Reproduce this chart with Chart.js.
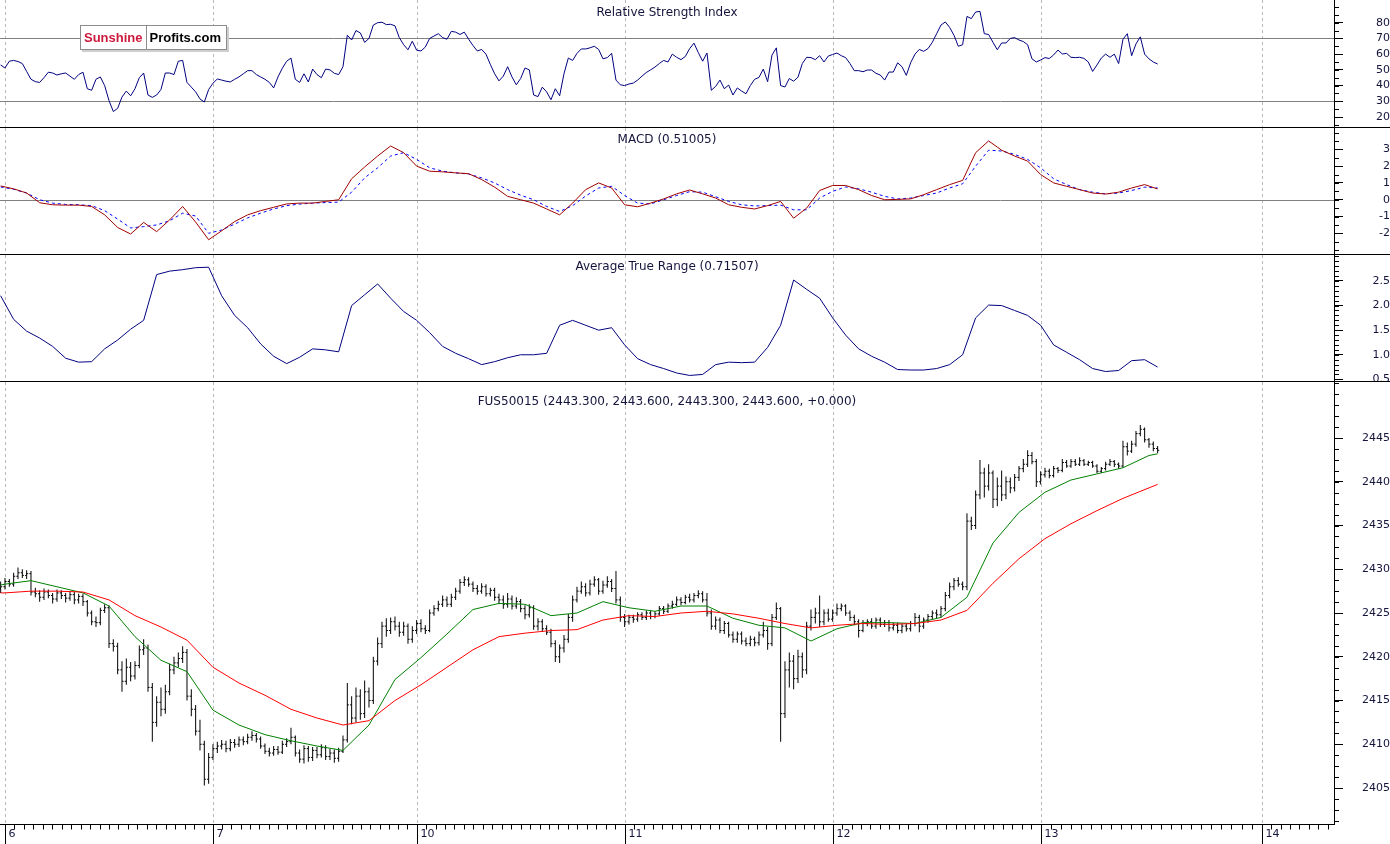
<!DOCTYPE html>
<html>
<head>
<meta charset="utf-8">
<title>FUS50015</title>
<script src="https://cdn.jsdelivr.net/npm/chart.js@4.4.1/dist/chart.umd.min.js"></script>
<style>
  html, body { margin: 0; padding: 0; background: #fff; }
  #stage { position: relative; width: 1390px; height: 844px; overflow: hidden; font-family: "DejaVu Sans", sans-serif; }
  #stage canvas { position: absolute; left: 0; }
  .sep { position: absolute; left: 0; width: 1390px; height: 1px; background: #000; }
  .ttl { position: absolute; left: 0; width: 1334px; text-align: center; font-size: 12px; line-height: 14px; color: #14143c; white-space: nowrap; }
  #logo { position: absolute; left: 80px; top: 25px; height: 23px; border: 1px solid #8c8c8c; background: #fff;
          box-shadow: 2px 2px 0 #cfcfcf; font: bold 13px "Liberation Sans", Arial, sans-serif; line-height: 23px; display: flex; }
  #logo span { padding: 0 3px; }
  #logo .sun { color: #cc1a3c; border-right: 1px solid #8c8c8c; }
  #logo .pro { color: #000; padding-right: 5px; }
</style>
</head>
<body>
<div id="stage">
  <canvas id="pricePane" width="1390" height="462" style="top:382px"></canvas>
  <canvas id="atrPane" width="1390" height="134" style="top:255px"></canvas>
  <canvas id="macdPane" width="1390" height="126" style="top:128px"></canvas>
  <canvas id="rsiPane" width="1390" height="127" style="top:0"></canvas>
  <div class="sep" style="top:127px"></div>
  <div class="sep" style="top:254px"></div>
  <div class="sep" style="top:381px"></div>
  <div class="ttl" style="top:5px">Relative Strength Index</div>
  <div class="ttl" style="top:132px">MACD (0.51005)</div>
  <div class="ttl" style="top:259px">Average True Range (0.71507)</div>
  <div class="ttl" style="top:394px">FUS50015 (2443.300, 2443.600, 2443.300, 2443.600, +0.000)</div>
  <div id="logo"><span class="sun">Sunshine</span><span class="pro">Profits.com</span></div>
</div>
<script>
// x is a bar slot index; sessions start at these slots
const dayTicks = [0, 48, 95, 143, 191, 239, 290];
const dayLabels = ["6", "7", "10", "11", "12", "13", "14"];

// price bars, one per slot starting at slot -1
const BAR_START = -1;
const barOpen = [
  2427.8, 2428.0, 2428.6, 2428.3, 2429.2, 2429.6, 2429.3, 2429.5, 2427.4, 2427.2,
  2426.8, 2427.4, 2427.0, 2426.6, 2427.3, 2427.0, 2426.7, 2427.1, 2426.5, 2426.9,
  2426.3, 2425.0, 2424.0, 2423.9, 2425.3, 2425.6, 2421.5, 2421.2, 2418.5, 2417.2,
  2418.8, 2417.8, 2419.0, 2420.8, 2421.0, 2416.5, 2412.5, 2414.8, 2414.0, 2416.0,
  2418.5, 2419.3, 2419.8, 2420.5, 2415.5, 2414.0, 2411.5, 2410.0, 2406.0, 2408.5,
  2409.5, 2409.8, 2410.0, 2409.5, 2410.2, 2410.0, 2410.5, 2410.3, 2410.8, 2411.0,
  2410.6, 2409.8, 2409.2, 2409.0, 2409.4, 2409.1, 2410.0, 2410.3, 2410.8, 2409.0,
  2408.3, 2409.5, 2408.5, 2409.3, 2408.8, 2409.6, 2408.6, 2409.0, 2408.4, 2409.2,
  2410.5, 2414.5, 2413.0, 2415.5, 2413.5, 2416.0, 2415.0, 2419.5, 2421.5, 2423.5,
  2423.0, 2424.0, 2423.5, 2422.8, 2423.5, 2422.0, 2423.0, 2423.8, 2423.2, 2423.0,
  2425.0, 2425.5, 2426.0, 2426.5, 2426.0, 2426.8, 2427.5, 2428.5, 2428.8, 2428.3,
  2427.8, 2427.5, 2428.0, 2427.2, 2427.6, 2426.8, 2426.5, 2426.0, 2426.6, 2425.8,
  2426.3, 2425.5, 2424.8, 2425.6, 2423.5, 2424.0, 2423.2, 2422.8, 2421.5, 2420.0,
  2421.0, 2422.0, 2424.5, 2426.5, 2427.5, 2428.0, 2427.3, 2428.3, 2428.8, 2427.5,
  2428.2, 2428.6, 2427.8, 2426.5, 2424.5, 2424.0, 2424.5, 2424.3, 2424.8, 2424.5,
  2425.0, 2424.6, 2424.9, 2425.5, 2425.2, 2425.8, 2426.0, 2426.5, 2426.2, 2426.8,
  2426.5, 2427.0, 2427.2, 2426.5, 2425.0, 2423.5, 2424.2, 2423.0, 2423.8, 2422.5,
  2422.0, 2422.6, 2421.8, 2421.5, 2422.0, 2421.6, 2422.5, 2423.0, 2421.5, 2424.5,
  2425.5, 2413.5, 2418.5, 2419.5, 2417.5, 2420.0, 2418.5, 2423.5, 2424.5, 2425.0,
  2424.0, 2425.0, 2424.3, 2425.0, 2425.5, 2425.8, 2425.0, 2424.5, 2424.0, 2423.0,
  2423.8, 2424.0, 2423.5, 2424.2, 2423.7, 2423.9, 2423.3, 2423.6, 2423.0, 2423.5,
  2423.2, 2423.8, 2424.5, 2423.5, 2424.2, 2424.6, 2425.0, 2424.8, 2425.5, 2427.0,
  2428.0, 2428.7, 2428.3, 2428.0, 2435.5, 2435.0, 2438.5, 2441.0, 2439.5, 2441.0,
  2438.0, 2439.5, 2438.5, 2440.0, 2439.3, 2440.5, 2441.5, 2442.0, 2443.0, 2442.3,
  2440.0, 2440.8, 2441.2, 2440.7, 2441.5, 2441.3, 2442.2, 2441.8, 2442.3, 2442.0,
  2442.4, 2442.0, 2442.2, 2441.8, 2441.2, 2441.5, 2442.0, 2442.3, 2442.0, 2441.8,
  2444.0, 2443.5, 2444.3, 2445.5, 2446.0, 2444.8, 2444.3, 2443.8,
];
const barHigh = [
  2428.6, 2429.0, 2428.9, 2429.6, 2430.2, 2430.0, 2429.9, 2429.8, 2427.9, 2427.6,
  2427.8, 2427.7, 2427.3, 2427.7, 2427.6, 2427.3, 2427.5, 2427.4, 2427.2, 2427.2,
  2426.5, 2425.3, 2424.6, 2425.6, 2426.0, 2425.9, 2422.0, 2421.6, 2419.5, 2419.8,
  2419.4, 2419.5, 2421.3, 2422.0, 2421.4, 2417.0, 2415.5, 2416.5, 2416.8, 2419.2,
  2420.0, 2420.5, 2421.2, 2420.9, 2416.3, 2414.5, 2412.8, 2410.4, 2409.0, 2410.0,
  2410.3, 2410.5, 2410.4, 2410.6, 2410.6, 2410.9, 2410.9, 2411.2, 2411.5, 2411.3,
  2410.9, 2410.1, 2409.6, 2409.8, 2409.8, 2410.4, 2410.7, 2411.9, 2411.0, 2409.4,
  2409.9, 2409.8, 2409.7, 2409.7, 2410.0, 2409.9, 2409.5, 2409.4, 2409.6, 2411.0,
  2417.0, 2415.5, 2416.5, 2416.3, 2417.3, 2416.5, 2420.0, 2422.2, 2424.0, 2424.4,
  2424.5, 2424.6, 2424.0, 2424.0, 2423.8, 2423.5, 2424.2, 2424.3, 2423.6, 2425.4,
  2425.9, 2426.4, 2427.0, 2426.9, 2427.2, 2427.9, 2428.9, 2429.2, 2429.1, 2428.6,
  2428.2, 2428.4, 2428.3, 2427.9, 2427.9, 2427.2, 2427.0, 2427.3, 2427.0, 2426.8,
  2426.6, 2425.9, 2426.0, 2425.9, 2424.4, 2424.3, 2423.6, 2423.2, 2421.9, 2421.4,
  2422.5, 2424.9, 2427.0, 2428.0, 2428.6, 2428.4, 2428.8, 2429.2, 2429.0, 2428.7,
  2429.2, 2428.9, 2429.8, 2426.9, 2424.9, 2424.8, 2424.8, 2425.1, 2425.1, 2425.3,
  2425.3, 2425.2, 2425.8, 2425.8, 2426.1, 2426.4, 2426.9, 2426.8, 2427.1, 2427.2,
  2427.3, 2427.6, 2427.5, 2427.3, 2425.4, 2424.6, 2424.5, 2424.1, 2424.0, 2422.9,
  2422.9, 2422.9, 2422.2, 2422.4, 2422.3, 2422.9, 2424.0, 2423.4, 2424.9, 2426.2,
  2425.7, 2419.5, 2420.5, 2420.2, 2420.8, 2420.5, 2424.0, 2425.4, 2425.6, 2427.0,
  2425.4, 2425.5, 2425.4, 2426.1, 2426.1, 2426.0, 2425.3, 2424.8, 2424.3, 2424.2,
  2424.3, 2424.4, 2424.5, 2424.5, 2424.2, 2424.2, 2423.9, 2423.9, 2423.8, 2423.8,
  2424.1, 2425.0, 2424.8, 2424.5, 2424.9, 2425.3, 2425.4, 2425.8, 2427.4, 2428.5,
  2429.0, 2429.1, 2428.6, 2436.4, 2436.0, 2439.0, 2442.5, 2441.6, 2442.0, 2441.3,
  2440.5, 2441.3, 2440.6, 2440.5, 2440.9, 2441.8, 2442.6, 2443.6, 2443.4, 2442.6,
  2441.2, 2441.6, 2441.5, 2441.8, 2441.7, 2442.6, 2442.5, 2442.6, 2442.6, 2442.8,
  2442.6, 2442.4, 2442.4, 2442.0, 2441.7, 2442.3, 2442.6, 2442.5, 2442.2, 2444.7,
  2444.5, 2444.7, 2445.8, 2446.5, 2446.2, 2445.0, 2444.6, 2444.1,
];
const barLow = [
  2427.3, 2427.7, 2428.0, 2428.0, 2428.9, 2429.0, 2428.9, 2427.0, 2426.8, 2426.3,
  2426.5, 2426.7, 2426.1, 2426.3, 2426.6, 2426.2, 2426.4, 2426.0, 2426.1, 2425.8,
  2424.6, 2423.6, 2423.4, 2423.6, 2425.0, 2421.0, 2420.6, 2418.0, 2416.0, 2416.8,
  2417.2, 2417.4, 2418.7, 2420.2, 2416.0, 2410.3, 2412.0, 2413.2, 2413.5, 2415.6,
  2418.0, 2418.8, 2419.3, 2415.0, 2413.2, 2411.0, 2409.3, 2405.3, 2405.5, 2408.2,
  2409.0, 2409.4, 2409.1, 2409.2, 2409.6, 2409.7, 2409.9, 2410.0, 2410.4, 2410.2,
  2409.5, 2408.9, 2408.6, 2408.7, 2408.8, 2408.9, 2409.7, 2410.0, 2408.6, 2407.9,
  2407.8, 2408.0, 2408.1, 2408.4, 2408.5, 2408.2, 2408.2, 2407.9, 2408.0, 2409.0,
  2410.2, 2412.3, 2412.5, 2412.8, 2413.0, 2414.2, 2414.6, 2419.0, 2421.0, 2422.3,
  2422.6, 2423.0, 2422.3, 2422.4, 2421.5, 2421.6, 2422.6, 2422.8, 2422.6, 2422.8,
  2424.7, 2425.2, 2425.7, 2425.7, 2425.7, 2426.5, 2427.2, 2428.1, 2428.0, 2427.4,
  2427.1, 2427.2, 2426.9, 2426.9, 2426.4, 2426.0, 2425.5, 2425.6, 2425.4, 2425.5,
  2425.1, 2424.3, 2424.5, 2423.1, 2423.0, 2422.9, 2422.5, 2421.1, 2419.4, 2419.3,
  2420.5, 2421.6, 2424.0, 2426.2, 2427.2, 2426.9, 2427.0, 2428.0, 2427.1, 2427.2,
  2427.9, 2427.4, 2426.1, 2424.0, 2423.4, 2423.7, 2423.9, 2424.0, 2424.2, 2424.2,
  2424.3, 2424.4, 2424.7, 2424.9, 2425.0, 2425.5, 2425.8, 2425.9, 2426.0, 2426.2,
  2426.2, 2426.7, 2426.2, 2424.6, 2423.1, 2423.1, 2422.7, 2422.6, 2422.2, 2421.6,
  2421.6, 2421.4, 2421.2, 2421.2, 2421.2, 2421.3, 2422.2, 2420.8, 2421.2, 2424.2,
  2410.3, 2413.0, 2416.5, 2416.3, 2417.0, 2417.6, 2418.0, 2423.0, 2423.8, 2423.4,
  2423.6, 2424.0, 2424.0, 2424.7, 2425.2, 2424.7, 2424.1, 2423.6, 2422.2, 2422.8,
  2423.5, 2423.2, 2423.2, 2423.4, 2423.4, 2422.9, 2423.0, 2422.7, 2422.7, 2422.9,
  2422.9, 2423.5, 2422.8, 2423.2, 2423.9, 2424.3, 2424.4, 2424.5, 2425.2, 2426.7,
  2427.6, 2428.0, 2427.6, 2427.6, 2434.5, 2434.6, 2438.0, 2438.2, 2439.0, 2437.0,
  2437.2, 2437.8, 2438.0, 2438.7, 2438.9, 2440.1, 2441.1, 2441.7, 2442.0, 2439.4,
  2439.7, 2440.5, 2440.4, 2440.5, 2441.0, 2441.1, 2441.6, 2441.6, 2441.8, 2441.8,
  2441.8, 2441.8, 2441.6, 2441.0, 2441.0, 2441.3, 2441.8, 2441.7, 2441.5, 2441.6,
  2443.0, 2443.3, 2444.0, 2445.2, 2444.5, 2443.9, 2443.5, 2443.3,
];
const barClose = [
  2428.0, 2428.6, 2428.3, 2429.2, 2429.6, 2429.3, 2429.5, 2427.4, 2427.2, 2426.8,
  2427.4, 2427.0, 2426.6, 2427.3, 2427.0, 2426.7, 2427.1, 2426.5, 2426.9, 2426.3,
  2425.0, 2424.0, 2423.9, 2425.3, 2425.6, 2421.5, 2421.2, 2418.5, 2417.2, 2418.8,
  2417.8, 2419.0, 2420.8, 2421.0, 2416.5, 2412.5, 2414.8, 2414.0, 2416.0, 2418.5,
  2419.3, 2419.8, 2420.5, 2415.5, 2414.0, 2411.5, 2410.0, 2406.0, 2408.5, 2409.5,
  2409.8, 2410.0, 2409.5, 2410.2, 2410.0, 2410.5, 2410.3, 2410.8, 2411.0, 2410.6,
  2409.8, 2409.2, 2409.0, 2409.4, 2409.1, 2410.0, 2410.3, 2410.8, 2409.0, 2408.3,
  2409.5, 2408.5, 2409.3, 2408.8, 2409.6, 2408.6, 2409.0, 2408.4, 2409.2, 2410.5,
  2414.5, 2413.0, 2415.5, 2413.5, 2416.0, 2415.0, 2419.5, 2421.5, 2423.5, 2423.0,
  2424.0, 2423.5, 2422.8, 2423.5, 2422.0, 2423.0, 2423.8, 2423.2, 2423.0, 2425.0,
  2425.5, 2426.0, 2426.5, 2426.0, 2426.8, 2427.5, 2428.5, 2428.8, 2428.3, 2427.8,
  2427.5, 2428.0, 2427.2, 2427.6, 2426.8, 2426.5, 2426.0, 2426.6, 2425.8, 2426.3,
  2425.5, 2424.8, 2425.6, 2423.5, 2424.0, 2423.2, 2422.8, 2421.5, 2420.0, 2421.0,
  2422.0, 2424.5, 2426.5, 2427.5, 2428.0, 2427.3, 2428.3, 2428.8, 2427.5, 2428.2,
  2428.6, 2427.8, 2426.5, 2424.5, 2424.0, 2424.5, 2424.3, 2424.8, 2424.5, 2425.0,
  2424.6, 2424.9, 2425.5, 2425.2, 2425.8, 2426.0, 2426.5, 2426.2, 2426.8, 2426.5,
  2427.0, 2427.2, 2426.5, 2425.0, 2423.5, 2424.2, 2423.0, 2423.8, 2422.5, 2422.0,
  2422.6, 2421.8, 2421.5, 2422.0, 2421.6, 2422.5, 2423.0, 2421.5, 2424.5, 2425.5,
  2413.5, 2418.5, 2419.5, 2417.5, 2420.0, 2418.5, 2423.5, 2424.5, 2425.0, 2424.0,
  2425.0, 2424.3, 2425.0, 2425.5, 2425.8, 2425.0, 2424.5, 2424.0, 2423.0, 2423.8,
  2424.0, 2423.5, 2424.2, 2423.7, 2423.9, 2423.3, 2423.6, 2423.0, 2423.5, 2423.2,
  2423.8, 2424.5, 2423.5, 2424.2, 2424.6, 2425.0, 2424.8, 2425.5, 2427.0, 2428.0,
  2428.7, 2428.3, 2428.0, 2435.5, 2435.0, 2438.5, 2441.0, 2439.5, 2441.0, 2438.0,
  2439.5, 2438.5, 2440.0, 2439.3, 2440.5, 2441.5, 2442.0, 2443.0, 2442.3, 2440.0,
  2440.8, 2441.2, 2440.7, 2441.5, 2441.3, 2442.2, 2441.8, 2442.3, 2442.0, 2442.4,
  2442.0, 2442.2, 2441.8, 2441.2, 2441.5, 2442.0, 2442.3, 2442.0, 2441.8, 2444.0,
  2443.5, 2444.3, 2445.5, 2446.0, 2444.8, 2444.3, 2443.8, 2443.6,
];

// moving averages read at these slots
const maSlots = [-1, 0, 6, 12, 18, 24, 30, 36, 42, 48, 54, 60, 66, 72, 78, 84, 90, 96, 102, 108,
  114, 120, 126, 132, 138, 144, 150, 156, 162, 168, 174, 180, 186, 192, 198, 204, 210, 216, 222,
  228, 234, 240, 246, 252, 258, 264, 266];
const maFast = [2428.2, 2428.3, 2428.7, 2428.0, 2427.3, 2425.8, 2422.3, 2419.6, 2418.3, 2413.9,
  2412.2, 2411.1, 2410.4, 2409.8, 2409.3, 2412.2, 2417.4, 2419.9, 2422.6, 2425.4,
  2426.1, 2426.0, 2424.7, 2425.0, 2426.3, 2425.6, 2425.2, 2425.8, 2425.8, 2424.4,
  2423.6, 2423.3, 2421.8, 2423.2, 2423.9, 2423.9, 2423.8, 2424.5, 2426.8, 2433.0,
  2436.5, 2438.8, 2440.2, 2440.9, 2441.6, 2443.0, 2443.2];
const maSlow = [2427.3, 2427.3, 2427.5, 2427.5, 2427.4, 2426.5, 2424.7, 2423.4, 2421.9, 2418.8,
  2417.0, 2415.6, 2414.0, 2413.0, 2412.2, 2412.7, 2415.0, 2416.8, 2418.8, 2420.8,
  2422.3, 2422.7, 2423.0, 2423.1, 2424.2, 2424.7, 2424.6, 2425.0, 2425.2, 2424.9,
  2424.4, 2423.8, 2423.3, 2423.6, 2423.8, 2423.7, 2423.8, 2424.2, 2425.3, 2428.4,
  2431.2, 2433.5, 2435.2, 2436.7, 2438.1, 2439.3, 2439.7];

// RSI, one value per slot from slot -1
const RSI_START = -1;
const rsiValues = [
  53.1, 51.2, 55.5, 56.0, 55.3, 54.0, 49.0, 44.0, 42.5, 42.0,
  45.0, 48.5, 48.0, 46.7, 47.5, 48.0, 46.0, 44.0, 47.0, 48.5,
  38.0, 37.0, 44.0, 45.5, 40.0, 30.5, 23.5, 25.5, 32.7, 36.5,
  33.5, 38.0, 45.0, 48.0, 34.0, 32.5, 34.0, 37.5, 48.0, 48.0,
  47.0, 55.5, 56.0, 42.0, 39.0, 36.0, 31.5, 29.5, 37.5, 41.5,
  44.2, 43.5, 42.8, 42.3, 44.0, 45.5, 47.5, 49.5, 49.5, 47.0,
  45.5, 44.0, 42.0, 38.5, 45.5, 51.0, 55.5, 57.5, 44.0, 42.0,
  47.5, 42.3, 50.5, 47.0, 45.0, 50.5, 50.0, 47.8, 47.0, 52.0,
  72.0, 69.0, 75.0, 73.5, 67.5, 70.0, 78.5, 80.0, 80.3, 78.8,
  79.0, 78.0, 70.5, 66.0, 62.8, 68.2, 62.5, 62.0, 64.5, 70.0,
  71.5, 73.0, 70.5, 69.5, 74.5, 74.0, 72.5, 74.0, 69.5, 65.5,
  62.0, 63.0, 60.0, 53.5, 47.5, 43.0, 46.0, 52.0, 45.5, 40.5,
  44.5, 51.2, 50.0, 34.0, 33.0, 39.0, 36.0, 31.0, 38.0, 33.5,
  47.5, 57.5, 56.0, 60.5, 63.3, 63.3, 64.0, 65.0, 63.0, 57.0,
  57.8, 60.5, 43.5, 40.5, 40.0, 41.0, 41.6, 43.5, 46.0, 48.3,
  50.0, 51.8, 54.0, 56.0, 55.0, 60.0, 58.0, 56.5, 58.5, 63.5,
  67.0, 61.0, 55.5, 60.7, 37.0, 39.5, 43.5, 38.0, 40.3, 34.0,
  38.5, 36.5, 34.8, 40.0, 44.0, 45.2, 50.5, 42.5, 59.4, 64.0,
  40.0, 39.1, 44.5, 42.8, 45.3, 54.0, 58.0, 57.8, 56.5, 59.0,
  55.0, 58.8, 59.8, 60.7, 59.0, 57.8, 54.0, 49.5, 49.5, 48.8,
  49.9, 49.9, 47.8, 46.7, 43.5, 48.6, 48.6, 54.5, 52.0, 46.5,
  54.5, 60.0, 63.0, 61.8, 63.5, 67.5, 73.0, 78.5, 80.5, 77.0,
  72.0, 65.0, 66.0, 84.0, 82.6, 86.8, 87.2, 73.0, 72.5, 67.5,
  62.8, 67.1, 67.1, 70.0, 70.5, 69.0, 68.0, 66.0, 57.0, 55.0,
  56.3, 57.8, 57.2, 59.5, 62.6, 60.1, 60.5, 58.0, 57.8, 58.0,
  57.3, 55.0, 49.0, 53.1, 57.5, 60.0, 58.0, 60.0, 54.0, 69.5,
  73.0, 59.0, 66.5, 71.0, 60.0, 57.0, 55.0, 53.7,
];

// MACD and ATR, read every third slot from slot -1
const OSC_START = -1, OSC_STEP = 3;
const macdLine = [
  0.82, 0.65, 0.4, -0.18, -0.3, -0.32, -0.32, -0.4, -0.9, -1.65,
  -2.04, -1.35, -1.9, -1.2, -0.4, -1.33, -2.38, -1.85, -1.3, -0.9,
  -0.65, -0.45, -0.25, -0.2, -0.2, -0.1, 0.0, 1.25, 1.95, 2.6,
  3.2, 2.8, 2.0, 1.7, 1.66, 1.6, 1.55, 1.2, 0.75, 0.2,
  0.0, -0.2, -0.55, -0.9, -0.2, 0.6, 1.0, 0.7, -0.3, -0.42,
  -0.2, 0.05, 0.35, 0.58, 0.35, 0.1, -0.3, -0.45, -0.55, -0.35,
  -0.1, -1.1, -0.5, 0.55, 0.85, 0.85, 0.6, 0.25, 0.0, 0.02,
  0.05, 0.3, 0.6, 0.9, 1.15, 2.8, 3.5, 2.95, 2.6, 2.3,
  1.5, 1.0, 0.8, 0.6, 0.4, 0.34, 0.45, 0.7, 0.9, 0.64,
];
const macdSignal = [
  0.76, 0.62, 0.4, 0.0, -0.2, -0.28, -0.3, -0.35, -0.65, -1.15,
  -1.68, -1.6, -1.5, -1.25, -0.8, -0.97, -2.0, -1.8, -1.45, -1.08,
  -0.8, -0.55, -0.35, -0.26, -0.2, -0.17, -0.14, 0.45, 1.3, 1.9,
  2.6, 2.8, 2.4, 1.9, 1.7, 1.6, 1.53, 1.3, 1.0, 0.6,
  0.27, 0.0, -0.4, -0.7, -0.35, 0.22, 0.7, 0.8, 0.25, -0.2,
  -0.25, 0.0, 0.25, 0.48, 0.45, 0.18, -0.1, -0.3, -0.37, -0.35,
  -0.32, -0.6, -0.6, 0.1, 0.5, 0.76, 0.65, 0.45, 0.2, 0.05,
  0.1, 0.25, 0.4, 0.7, 0.95, 2.0, 2.95, 2.9, 2.7, 2.4,
  1.9, 1.25, 0.9, 0.6, 0.45, 0.35, 0.4, 0.55, 0.75, 0.7,
];
const atrValues = [
  2.2, 1.72, 1.48, 1.34, 1.17, 0.93, 0.85, 0.86, 1.12, 1.3,
  1.52, 1.7, 2.63, 2.7, 2.73, 2.77, 2.78, 2.2, 1.8, 1.55,
  1.22, 0.97, 0.82, 0.95, 1.12, 1.1, 1.06, 2.0, 2.22, 2.44,
  2.15, 1.88, 1.7, 1.45, 1.17, 1.03, 0.92, 0.8, 0.86, 0.94,
  1.0, 1.0, 1.03, 1.6, 1.7, 1.6, 1.5, 1.55, 1.2, 0.92,
  0.8, 0.72, 0.63, 0.58, 0.6, 0.8, 0.85, 0.84, 0.85, 1.15,
  1.6, 2.52, 2.33, 2.15, 1.75, 1.4, 1.12, 0.97, 0.85, 0.7,
  0.69, 0.69, 0.72, 0.8, 1.0, 1.75, 2.01, 2.0, 1.9, 1.8,
  1.6, 1.2, 1.05, 0.9, 0.72, 0.66, 0.68, 0.88, 0.9, 0.75,
];

// axis labels and reference levels
const rsiTicks = [20, 30, 40, 50, 60, 70, 80];
const rsiLevels = [70, 30];
const macdTicks = [-2, -1, 0, 1, 2, 3];
const macdLevels = [0];
const atrTicks = [0.5, 1.0, 1.5, 2.0, 2.5];
const priceTicks = [2405, 2410, 2415, 2420, 2425, 2430, 2435, 2440, 2445];

const X_MIN = -1.15, X_MAX = 306.7, AXIS_W = 56;
const INK = "#14143c";

Chart.defaults.font.family = '"DejaVu Sans", sans-serif';

function series(start, step, values) {
  return values.map((v, i) => ({ x: start + i * step, y: v }));
}

function steps(lo, hi, step) {
  const out = [];
  for (let v = lo; v <= hi + 1e-9; v += step) out.push(+v.toFixed(4));
  return out;
}

// draws session dividers, level lines, minor axis ticks and the time axis
const paneDecor = {
  id: "paneDecor",
  beforeDatasetsDraw(chart, args, opts) {
    const { ctx, chartArea: a } = chart;
    const x = chart.scales.x, y = chart.scales.y;
    ctx.save();
    ctx.lineWidth = 1;
    ctx.strokeStyle = "#b9b9b9";
    ctx.setLineDash([3, 3]);
    for (const t of dayTicks) {
      const px = Math.round(x.getPixelForValue(t)) + 0.5;
      if (px < a.left || px > a.right) continue;
      ctx.beginPath(); ctx.moveTo(px, a.top); ctx.lineTo(px, a.bottom); ctx.stroke();
    }
    ctx.setLineDash([]);
    ctx.strokeStyle = "#808080";
    for (const v of opts.levels || []) {
      const py = Math.round(y.getPixelForValue(v)) + 0.5;
      ctx.beginPath(); ctx.moveTo(a.left, py); ctx.lineTo(a.right, py); ctx.stroke();
    }
    ctx.restore();
  },
  afterDraw(chart, args, opts) {
    const { ctx, chartArea: a } = chart;
    const x = chart.scales.x, y = chart.scales.y;
    ctx.save();
    ctx.strokeStyle = "#000";
    ctx.lineWidth = 1;
    for (const v of opts.minor || []) {
      const py = Math.round(y.getPixelForValue(v)) + 0.5;
      if (py < a.top || py > a.bottom) continue;
      ctx.beginPath(); ctx.moveTo(y.left, py); ctx.lineTo(y.left + 5, py); ctx.stroke();
    }
    if (opts.timeAxis) {
      const yb = Math.round(a.bottom) + 0.5;
      ctx.beginPath(); ctx.moveTo(0, yb); ctx.lineTo(a.right, yb); ctx.stroke();
      ctx.fillStyle = INK;
      ctx.font = '11px "DejaVu Sans", sans-serif';
      ctx.textBaseline = "middle";
      ctx.textAlign = "left";
      dayTicks.forEach((t, i) => {
        const next = i + 1 < dayTicks.length ? dayTicks[i + 1] : t + 48;
        for (let k = 1; k < 22; k++) {
          const px = Math.round(x.getPixelForValue(t + ((next - t) * k) / 22)) + 0.5;
          if (px > a.right) break;
          ctx.beginPath(); ctx.moveTo(px, yb); ctx.lineTo(px, yb + 5); ctx.stroke();
        }
        const px = Math.round(x.getPixelForValue(t)) + 0.5;
        if (px > a.right) return;
        ctx.beginPath(); ctx.moveTo(px, yb); ctx.lineTo(px, chart.height); ctx.stroke();
        ctx.fillText(dayLabels[i], px + 3, yb + 10);
      });
    }
    ctx.restore();
  },
};

function rightAxis(min, max, labels, digits) {
  return {
    type: "linear",
    position: "right",
    min,
    max,
    afterBuildTicks: (s) => { s.ticks = labels.map((v) => ({ value: v })); },
    afterFit: (s) => {
      s.width = AXIS_W;
      s.paddingTop = 0;
      s.paddingBottom = 0;
      try {
        // right-align labels about 5px from the edge
        const widest = s._getLabelSizes().widest.width;
        s.options.ticks.padding = AXIS_W - 5 - 9 - widest;
      } catch (e) { /* keep default padding */ }
    },
    border: { display: true, color: "#000", width: 1 },
    grid: { drawOnChartArea: false, drawTicks: true, tickLength: 9, color: "#000", lineWidth: 1 },
    ticks: {
      crossAlign: "far",
      padding: 10,
      autoSkip: false,
      color: INK,
      font: { size: 11 },
      callback: (v) => Number(v).toFixed(digits),
    },
  };
}

function makePane(id, cfg) {
  return new Chart(document.getElementById(id), {
    type: "line",
    data: { datasets: cfg.datasets },
    options: {
      responsive: false,
      animation: false,
      devicePixelRatio: 1,
      events: [],
      layout: { autoPadding: false, padding: { left: 0, right: 0, top: 0, bottom: cfg.bottom || 0 } },
      plugins: {
        legend: { display: false },
        tooltip: { enabled: false },
        paneDecor: { levels: cfg.levels, minor: cfg.minor, timeAxis: cfg.timeAxis },
      },
      scales: {
        x: { type: "linear", display: false, min: X_MIN, max: X_MAX, offset: false },
        y: rightAxis(cfg.min, cfg.max, cfg.ticks, cfg.digits),
      },
    },
    plugins: [paneDecor],
  });
}

function lineSet(data, color, extra) {
  return Object.assign({ data, borderColor: color, borderWidth: 1, pointRadius: 0, tension: 0, fill: false }, extra || {});
}

makePane("rsiPane", {
  min: 13.65, max: 94.44, ticks: rsiTicks, digits: 0,
  levels: rsiLevels, minor: steps(15, 90, 5),
  datasets: [lineSet(series(RSI_START, 1, rsiValues), "#000080")],
});

makePane("macdPane", {
  min: -3.23, max: 4.27, ticks: macdTicks, digits: 0,
  levels: macdLevels, minor: steps(-3, 4, 0.5),
  datasets: [
    lineSet(series(OSC_START, OSC_STEP, macdLine), "#a00000", { order: 0 }),
    lineSet(series(OSC_START, OSC_STEP, macdSignal), "#0000ff", { borderDash: [3, 3], order: 1 }),
  ],
});

makePane("atrPane", {
  min: 0.467, max: 3.028, ticks: atrTicks, digits: 1, bottom: 8,
  minor: steps(0.5, 3.0, 0.1),
  datasets: [lineSet(series(OSC_START, OSC_STEP, atrValues), "#000080")],
});

const barSlots = barClose.map((_, i) => BAR_START + i);
makePane("pricePane", {
  min: 2400.89, max: 2451.4, ticks: priceTicks, digits: 0, bottom: 20,
  minor: steps(2401.25, 2451.25, 1.25), timeAxis: true,
  datasets: [
    lineSet(maSlots.map((s, i) => ({ x: s, y: maSlow[i] })), "#ff0000", { order: 0 }),
    lineSet(maSlots.map((s, i) => ({ x: s, y: maFast[i] })), "#008000", { order: 0 }),
    {
      type: "bar",
      data: barSlots.map((s, i) => ({ x: s, y: [barLow[i], barHigh[i]] })),
      backgroundColor: "#000",
      borderWidth: 0,
      barThickness: 1,
      inflateAmount: 0,
      grouped: false,
      order: 2,
    },
    {
      type: "scatter",
      data: barSlots.map((s, i) => ({ x: s, y: barOpen[i] })),
      pointStyle: "dash", pointRadius: 1.6, pointRotation: 180,
      pointBorderColor: "#000", pointBackgroundColor: "#000", pointBorderWidth: 1,
      showLine: false, order: 1,
    },
    {
      type: "scatter",
      data: barSlots.map((s, i) => ({ x: s, y: barClose[i] })),
      pointStyle: "dash", pointRadius: 1.6, pointRotation: 0,
      pointBorderColor: "#000", pointBackgroundColor: "#000", pointBorderWidth: 1,
      showLine: false, order: 1,
    },
  ],
});
</script>
</body>
</html>
